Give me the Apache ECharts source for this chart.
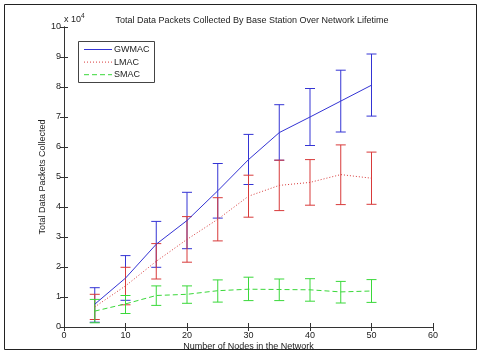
<!DOCTYPE html>
<html><head><meta charset="utf-8">
<script src="https://cdn.jsdelivr.net/npm/echarts@6/dist/echarts.min.js"></script>
<style>html,body{margin:0;padding:0;background:#fff}#c{width:480px;height:354px}</style>
</head><body><div id="c"></div>
<script>
const nodes = [5, 10, 15, 20, 25, 30, 35, 40, 45, 50];
const gwmac     = [7600, 16300, 27600, 35500, 45400, 55800, 64800, 70000, 75300, 80600];
const gwmacLow  = [1600, 8900, 19900, 26100, 36300, 47500, 55600, 60500, 65000, 70300];
const gwmacHigh = [13100, 23800, 35200, 44900, 54500, 64200, 74100, 79500, 85600, 91000];
const lmac      = [6700, 13700, 21900, 29200, 35900, 43600, 47200, 48200, 50800, 49600];
const lmacLow   = [2500, 7400, 16000, 21600, 28700, 36600, 38800, 40600, 40800, 40900];
const lmacHigh  = [10900, 19900, 27800, 36800, 43100, 50600, 55600, 55800, 60700, 58300];
const smac      = [5300, 7700, 10500, 10900, 12100, 12600, 12500, 12400, 11700, 12000];
const smacLow   = [1400, 4500, 7200, 7900, 8300, 8800, 8800, 8600, 8000, 8200];
const smacHigh  = [9200, 10500, 13700, 13700, 15700, 16600, 16000, 16100, 15200, 15800];
const seriesNames = ['GWMAC', 'LMAC', 'SMAC'];
const xTicks = [0, 10, 20, 30, 40, 50, 60];
const yTicks = [0, 1, 2, 3, 4, 5, 6, 7, 8, 9, 10];

const FONT = 'Liberation Sans';
const FS = 9;
const C_G = '#3434d4', C_L = '#d83a3a', C_S = '#3ad83a';
const DASH = { solid: null, dotted: [1, 2], dashed: [5, 3] };

function errSeries(name, color, low, high) {
  return {
    type: 'custom', name: name + '_err', silent: true, z: 3,
    data: nodes.map((x, i) => [x, low[i], high[i]]),
    renderItem: function (params, api) {
      const lo = api.coord([api.value(0), api.value(1)]);
      const hi = api.coord([api.value(0), api.value(2)]);
      const w = 5;
      const st = { stroke: color, lineWidth: 1 };
      return { type: 'group', children: [
        { type: 'line', shape: { x1: lo[0], y1: lo[1], x2: hi[0], y2: hi[1] }, style: st },
        { type: 'line', shape: { x1: lo[0] - w, y1: lo[1], x2: lo[0] + w, y2: lo[1] }, style: st },
        { type: 'line', shape: { x1: hi[0] - w, y1: hi[1], x2: hi[0] + w, y2: hi[1] }, style: st }
      ]};
    }
  };
}
function lineSeries(name, color, vals, type) {
  return {
    type: 'line', name: name, symbol: 'none', z: 4,
    data: nodes.map((x, i) => [x, vals[i]]),
    lineStyle: { color: color, width: 1, type: DASH[type] || 'solid' },
    itemStyle: { color: color }
  };
}
// legend drawn as graphic elements (box, line samples, real text labels)
const legendSpec = [[seriesNames[0], C_G, 'solid'], [seriesNames[1], C_L, 'dotted'], [seriesNames[2], C_S, 'dashed']];
const legendGraphic = [{ type: 'rect', z: 50, shape: { x: 78.5, y: 41.5, width: 76, height: 41 },
  style: { fill: '#fff', stroke: '#444', lineWidth: 1 } }];
legendSpec.forEach((s, i) => {
  const y = 49.5 + i * 12.6;
  legendGraphic.push({ type: 'line', z: 51, shape: { x1: 84, y1: y, x2: 112, y2: y },
    style: { stroke: s[1], lineWidth: 1, lineDash: DASH[s[2]] } });
  legendGraphic.push({ type: 'text', z: 51, x: 114, y: y,
    style: { text: s[0], fontFamily: FONT, fontSize: FS, fill: '#222', verticalAlign: 'middle' } });
});

const axLine = { show: true, lineStyle: { color: '#333', width: 1 } };
const tick = { show: true, inside: true, length: 4, lineStyle: { color: '#333' } };
const chart = echarts.init(document.getElementById('c'));
chart.setOption({
  animation: false,
  backgroundColor: '#fff',
  textStyle: { fontFamily: FONT },
  title: {
    text: 'Total Data Packets Collected By Base Station Over Network Lifetime',
    left: 247, textAlign: 'center', top: 11,
    textStyle: { fontFamily: FONT, fontSize: FS, fontWeight: 'normal', color: '#222' }
  },
  grid: { left: 64, right: 47, top: 27, bottom: 27, outerBoundsMode: 'none', containLabel: false },
  xAxis: [{
    type: 'value', min: 0, max: 60, interval: 10,
    name: 'Number of Nodes in the Network', nameLocation: 'middle', nameGap: 15,
    nameMoveOverlap: false,
    nameTextStyle: { fontFamily: FONT, fontSize: FS, color: '#222' },
    axisLine: axLine, axisTick: tick, splitLine: { show: false },
    axisLabel: { fontFamily: FONT, fontSize: FS, color: '#222', margin: 4 }
  }, {
    type: 'value', min: 0, max: 60, interval: 10, position: 'top',
    axisLine: axLine, axisTick: tick, splitLine: { show: false }, axisLabel: { show: false }
  }],
  yAxis: [{
    type: 'value', min: 0, max: 100000, interval: 10000,
    name: 'Total Data Packets Collected', nameLocation: 'middle', nameGap: 17,
    nameMoveOverlap: false,
    nameTextStyle: { fontFamily: FONT, fontSize: FS, color: '#222' },
    axisLine: axLine, axisTick: tick, splitLine: { show: false },
    axisLabel: { fontFamily: FONT, fontSize: FS, color: '#222', margin: 3,
      formatter: v => String(yTicks[Math.round(v / 10000)]) }
  }, {
    type: 'value', min: 0, max: 100000, interval: 10000, position: 'right',
    axisLine: axLine, axisTick: tick, splitLine: { show: false }, axisLabel: { show: false }
  }],
  graphic: [
    { type: 'rect', shape: { x: 4.5, y: 4.5, width: 472, height: 345 },
      style: { fill: null, stroke: '#222', lineWidth: 1 }, z: 100 },
    { type: 'text', left: 64, top: 13, z: 100,
      style: { text: 'x 10{sup|4}', fontFamily: FONT, fontSize: FS, fill: '#222',
        rich: { sup: { fontSize: 6.5, verticalAlign: 'top', padding: [0, 0, 6, 0], fontFamily: FONT, fill: '#222' } } } }
  ].concat(legendGraphic),
  series: [
    errSeries('GWMAC', C_G, gwmacLow, gwmacHigh),
    errSeries('LMAC', C_L, lmacLow, lmacHigh),
    errSeries('SMAC', C_S, smacLow, smacHigh),
    lineSeries('GWMAC', C_G, gwmac, 'solid'),
    lineSeries('LMAC', C_L, lmac, 'dotted'),
    lineSeries('SMAC', C_S, smac, 'dashed')
  ]
});
</script></body></html>
